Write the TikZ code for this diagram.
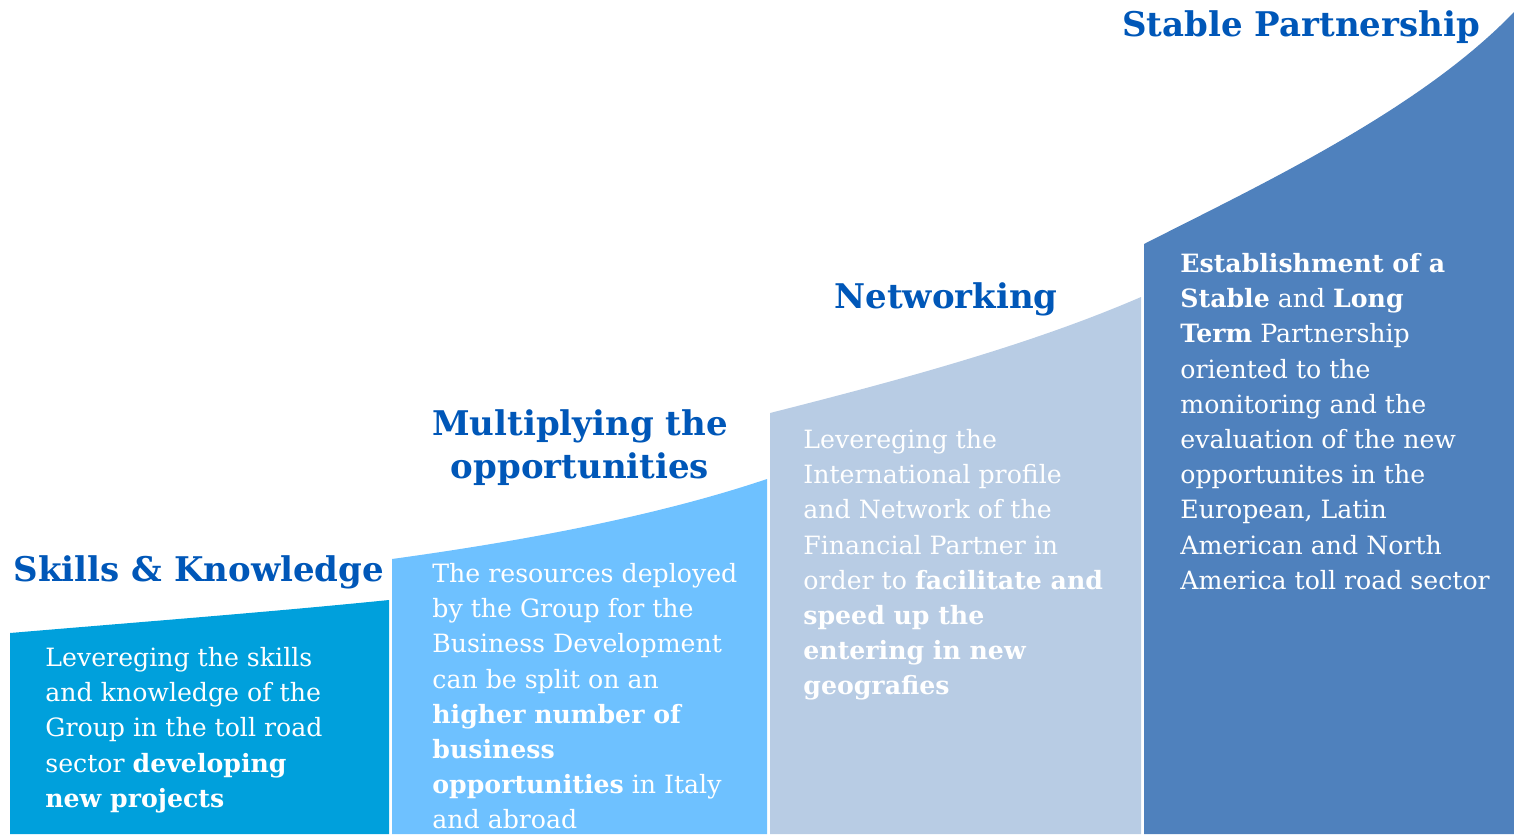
\documentclass[tikz,border=0pt]{standalone}
\usepackage{fontspec}
\setmainfont{DejaVu Serif}
\definecolor{cA}{RGB}{0,160,220}
\definecolor{cB}{RGB}{110,193,255}
\definecolor{cC}{RGB}{184,204,228}
\definecolor{cD}{RGB}{79,129,189}
\definecolor{ctitle}{RGB}{0,87,184}
\begin{document}
\begin{tikzpicture}[x=0.5pt,y=-0.5pt,
  body/.style={anchor=north west,inner sep=0pt,align=left,text=white,font=\fontsize{12.6}{17.6}\selectfont},
  ttl/.style={inner sep=0pt,align=center,text=ctitle,font=\fontsize{17}{21.5}\selectfont\bfseries}]
\useasboundingbox (0,0) rectangle (1514,836);
\fill[cA] (10,834) -- (10,633) .. controls (140,622) and (270,612) .. (389,600) -- (389,834) -- cycle;
\fill[cB] (392,834) -- (392,559) .. controls (530,540) and (660,515) .. (767,479) -- (767,834) -- cycle;
\fill[cC] (770,834) -- (770,413) .. controls (900,380) and (1030,345) .. (1141,297) -- (1141,834) -- cycle;
\fill[cD] (1144,834) -- (1144,244) .. controls (1260,185) and (1420,110) .. (1514,12) -- (1514,834) -- cycle;
\node[ttl] (t1) at (199,572) {Skills \& Knowledge};
\node[ttl] (t2) at (580,448) {Multiplying the\\opportunities};
\node[ttl] (t3) at (946,299) {Networking};
\node[ttl] (t4) at (1301,27) {Stable Partnership};
\node[body] (b1) at (45,647) {Levereging the skills\\and knowledge of the\\Group in the toll road\\sector \textbf{developing}\\\textbf{new projects}};
\node[body] (b2) at (432,563) {The resources deployed\\by the Group for the\\Business Development\\can be split on an\\\textbf{higher number of}\\\textbf{business}\\\textbf{opportunities} in Italy\\and abroad};
\node[body] (b3) at (803,429) {Levereging the\\International profile\\and Network of the\\Financial Partner in\\order to \textbf{facilitate and}\\\textbf{speed up the}\\\textbf{entering in new}\\\textbf{geografies}};
\node[body] (b4) at (1180,253) {\textbf{Establishment of a}\\\textbf{Stable} and \textbf{Long}\\\textbf{Term} Partnership\\oriented to the\\monitoring and the\\evaluation of the new\\opportunites in the\\European, Latin\\American and North\\America toll road sector};
\end{tikzpicture}
\end{document}
